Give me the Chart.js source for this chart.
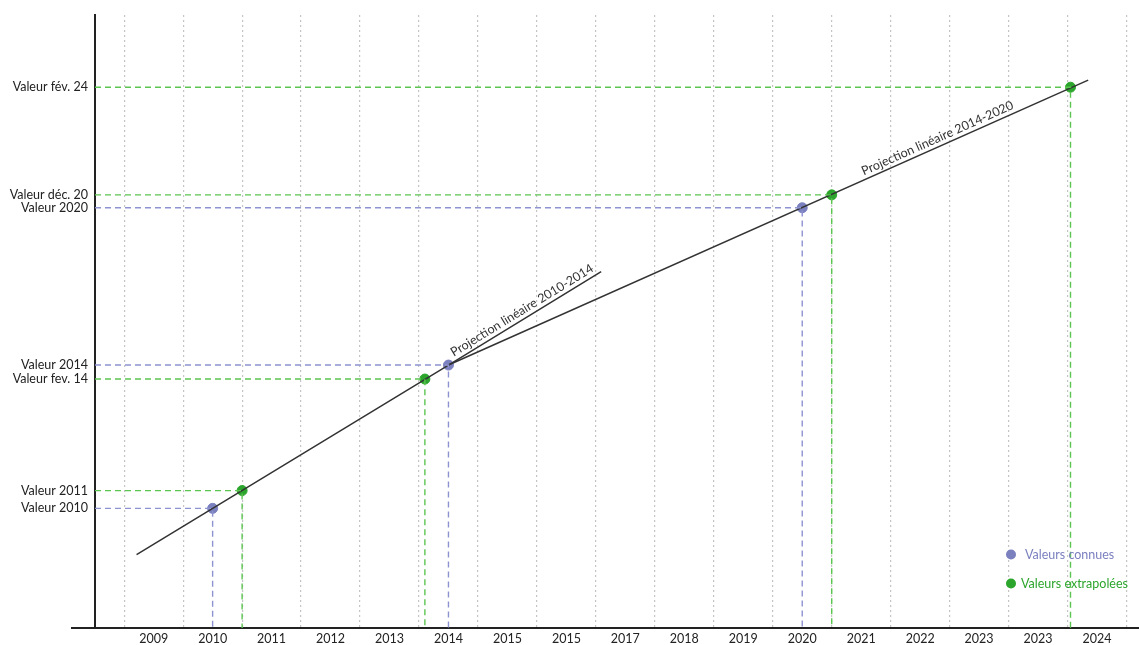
<!DOCTYPE html>
<html><head><meta charset="utf-8">
<script src="https://cdn.jsdelivr.net/npm/chart.js@4.4.1/dist/chart.umd.min.js"></script>
<style>html,body{margin:0;padding:0;background:#fff}#wrap{width:1139px;height:645px}</style>
</head><body><div id="wrap"><canvas id="c" width="1139" height="645"></canvas></div>
<script>
// ---- data ----
const yearLabels = ['2009','2010','2011','2012','2013','2014','2015','2015','2017','2018','2019','2020','2021','2022','2023','2023','2024'];
const knownX = [1, 5, 11];
const knownY = [19.5, 42.86, 68.5];
const knownNames = ['Valeur 2010', 'Valeur 2014', 'Valeur 2020'];
const extraX = [1.5, 4.6, 11.5, 15.55];
const extraY = [22.4, 40.58, 70.6, 88.15];
const extraNames = ['Valeur 2011', 'Valeur fev. 14', 'Valeur déc. 20', 'Valeur fév. 24'];
const proj1014X = [-0.29, 5, 7.59];
const proj1014Y = [11.96, 42.86, 58.1];
const proj1420X = [5, 15.85];
const proj1420Y = [42.86, 89.3];
const projLabels = ['Projection linéaire 2010-2014', 'Projection linéaire 2014-2020'];
const projLabelAt = [6.32, 13.35];
const legendNames = ['Valeurs connues', 'Valeurs extrapolées'];

const X_MIN = -0.995, X_MAX = 16.61, Y_MIN = 0, Y_MAX = 100;
const BLUE = '#7b80bf', BLUE_L = '#8d92d0', GREEN = '#2ca52c', GREEN_L = '#5cc450';
const FONT = 'Lato, "Open Sans", sans-serif';

const pts = (xs, ys) => xs.map((x, i) => ({x, y: ys[i]}));
const guide = (x, y) => [{x: X_MIN, y}, {x, y}, {x, y: Y_MIN}];

const datasets = [];
knownX.forEach((x, i) => datasets.push({
  type: 'scatter', data: guide(x, knownY[i]), showLine: true, borderColor: BLUE_L,
  borderWidth: 1.4, borderDash: [6, 4], pointRadius: 0, xAxisID: 'x', yAxisID: 'y'}));
extraX.forEach((x, i) => datasets.push({
  type: 'scatter', data: guide(x, extraY[i]), showLine: true, borderColor: GREEN_L,
  borderWidth: 1.4, borderDash: [6, 4], pointRadius: 0, xAxisID: 'x', yAxisID: 'y'}));
datasets.push({type: 'scatter', data: pts(proj1014X, proj1014Y), showLine: true, borderColor: '#333',
  borderWidth: 1.5, pointRadius: 0, xAxisID: 'x', yAxisID: 'y'});
datasets.push({type: 'scatter', data: pts(proj1420X, proj1420Y), showLine: true, borderColor: '#333',
  borderWidth: 1.5, pointRadius: 0, xAxisID: 'x', yAxisID: 'y'});
datasets.push({type: 'scatter', label: legendNames[0], data: pts(knownX, knownY), backgroundColor: BLUE,
  borderColor: BLUE, pointRadius: 5, xAxisID: 'x', yAxisID: 'y'});
datasets.push({type: 'scatter', label: legendNames[1], data: pts(extraX, extraY), backgroundColor: GREEN,
  borderColor: GREEN, pointRadius: 5, xAxisID: 'x', yAxisID: 'y'});

const yTickVals = knownY.concat(extraY);
const yTickNames = knownNames.concat(extraNames);

const overlay = {
  id: 'overlay',
  afterDraw(chart) {
    const ctx = chart.ctx, xs = chart.scales.x, ys = chart.scales.y, ca = chart.chartArea;
    ctx.save();
    // axis extension left of y axis and to the right edge
    ctx.strokeStyle = '#222'; ctx.lineWidth = 2;
    ctx.beginPath(); ctx.moveTo(ca.left - 24, ca.bottom); ctx.lineTo(ca.left, ca.bottom);
    ctx.moveTo(ca.right, ca.bottom); ctx.lineTo(chart.width, ca.bottom); ctx.stroke();
    // projection labels
    const lines = [[proj1014X, proj1014Y], [proj1420X, proj1420Y]];
    ctx.fillStyle = '#333'; ctx.font = '12.5px ' + FONT;
    ctx.textAlign = 'center'; ctx.textBaseline = 'bottom';
    lines.forEach((ln, k) => {
      const [lx, ly] = ln;
      const n = lx.length;
      const x0 = lx[n - 2], y0 = ly[n - 2], x1 = lx[n - 1], y1 = ly[n - 1];
      const px0 = xs.getPixelForValue(x0), py0 = ys.getPixelForValue(y0);
      const px1 = xs.getPixelForValue(x1), py1 = ys.getPixelForValue(y1);
      const t = (projLabelAt[k] - x0) / (x1 - x0);
      const ax = px0 + (px1 - px0) * t, ay = py0 + (py1 - py0) * t;
      const ang = Math.atan2(py1 - py0, px1 - px0);
      ctx.save(); ctx.translate(ax, ay); ctx.rotate(ang);
      ctx.fillText(projLabels[k], 0, -2);
      ctx.restore();
    });
    // legend
    const cols = [BLUE, GREEN];
    ctx.textAlign = 'left'; ctx.textBaseline = 'middle'; ctx.font = '12.5px ' + FONT;
    [[ca.right - 122, ca.top + 540, ca.right - 108], [ca.right - 122, ca.top + 569, ca.right - 112]].forEach((p, i) => {
      ctx.fillStyle = cols[i];
      ctx.beginPath(); ctx.arc(p[0], p[1], 5, 0, Math.PI * 2); ctx.fill();
      ctx.fillText(legendNames[i], p[2], p[1]);
    });
    ctx.restore();
  }
};

new Chart(document.getElementById('c'), {
  type: 'scatter',
  data: {datasets},
  plugins: [overlay],
  options: {
    responsive: false, animation: false, devicePixelRatio: 1,
    layout: {padding: {top: 12, right: 0, left: 0, bottom: 0}},
    plugins: {legend: {display: false}, tooltip: {enabled: false}},
    scales: {
      x: {
        type: 'linear', position: 'bottom', min: X_MIN, max: X_MAX,
        afterBuildTicks: s => { s.ticks = yearLabels.map((_, i) => ({value: i})); },
        afterFit: s => { s.height = 17; },
        grid: {display: false, drawTicks: false},
        border: {display: true, color: '#222', width: 2},
        ticks: {padding: 3, color: '#222', font: {family: FONT, size: 12.5},
          callback: (v) => yearLabels[v] ?? ''}
      },
      xg: {
        type: 'linear', position: 'top', min: X_MIN, max: X_MAX,
        afterBuildTicks: s => { s.ticks = yearLabels.concat(['']).map((_, i) => ({value: i - 0.5})); },
        afterFit: s => { s.height = 0; },
        grid: {display: true, drawTicks: false, color: '#c4c4c4', lineWidth: 1.2},
        border: {display: false, dash: [2, 3]},
        ticks: {display: false}
      },
      y: {
        type: 'linear', position: 'left', min: Y_MIN, max: Y_MAX,
        afterBuildTicks: s => { s.ticks = yTickVals.map(v => ({value: v})); },
        afterFit: s => { s.width = 95; },
        grid: {display: false, drawTicks: false},
        border: {display: true, color: '#222', width: 2},
        ticks: {padding: 7, color: '#222', font: {family: FONT, size: 12.5},
          callback: (v) => { const i = yTickVals.indexOf(v); return i >= 0 ? yTickNames[i] : ''; }}
      }
    }
  }
});
</script></body></html>
